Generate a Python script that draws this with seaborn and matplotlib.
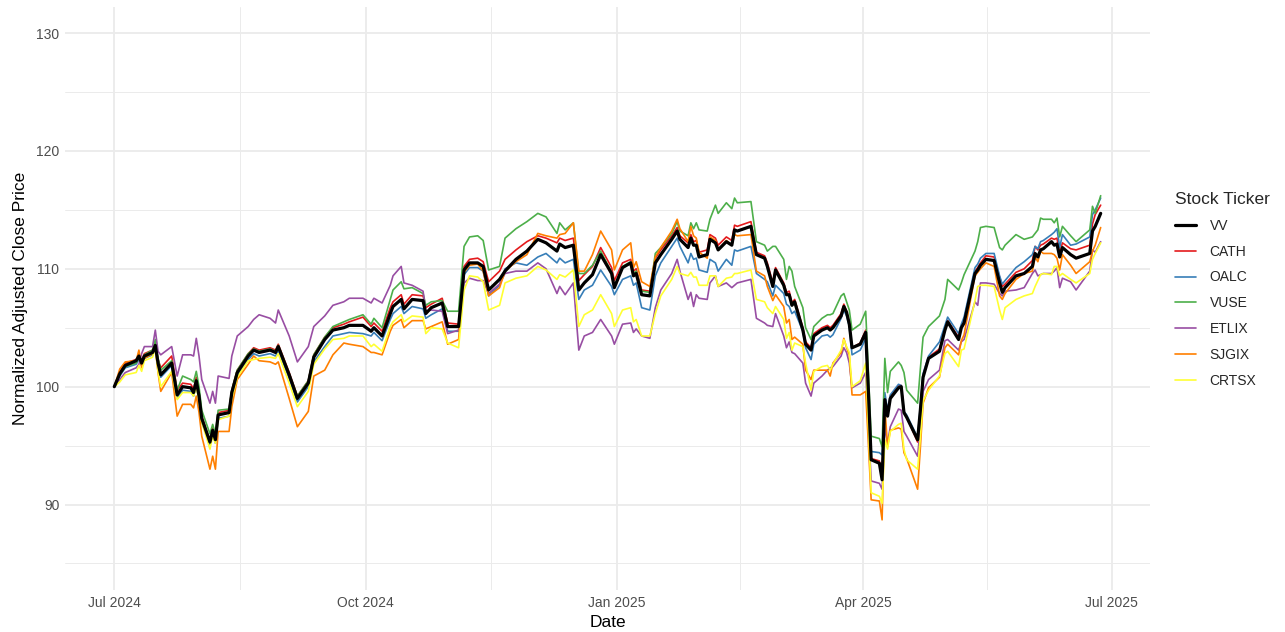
import matplotlib
matplotlib.use("Agg")
import matplotlib.pyplot as plt
import matplotlib.dates as mdates
from matplotlib.lines import Line2D
import numpy as np
import pandas as pd
import seaborn as sns

dates = (
    ["2024-07-%s" % d for d in ["01", "03", "05", "09", "10", "11", "12", "15", "16", "17", "18", "22", "24", "26", "29", "30", "31"]]
    + ["2024-08-%s" % d for d in ["01", "02", "05", "06", "07", "08", "12", "13", "15", "19", "21", "23", "27", "29", "30"]]
    + ["2024-09-%s" % d for d in ["03", "06", "10", "12", "16", "19", "23", "25", "30"]]
    + ["2024-10-%s" % d for d in ["03", "04", "07", "10", "11", "14", "15", "18", "22", "23", "25", "29", "31"]]
    + ["2024-11-%s" % d for d in ["04", "06", "08", "11", "13", "15", "19", "21", "25", "29"]]
    + ["2024-12-%s" % d for d in ["03", "06", "10", "11", "13", "16", "18", "20", "23", "26", "30", "31"]]
    + ["2025-01-%s" % d for d in ["03", "06", "07", "08", "10", "13", "15", "17", "21", "23", "24", "27", "28", "29", "30", "31"]]
    + ["2025-02-%s" % d for d in ["03", "04", "06", "07", "10", "12", "13", "14", "19", "21", "24", "25", "27", "28"]]
    + ["2025-03-%s" % d for d in ["03", "04", "05", "06", "07", "10", "11", "13", "14", "17", "19", "20", "21", "24", "25", "26", "27", "28", "31"]]
    + ["2025-04-%s" % d for d in ["02", "03", "04", "07", "08", "09", "10", "11", "14", "15", "16", "17", "21", "22", "23", "25", "29"]]
    + ["2025-05-%s" % d for d in ["01", "02", "06", "07", "08", "12", "13", "14", "16", "19", "21", "22", "23", "27", "30"]]
    + ["2025-06-%s" % d for d in ["02", "03", "04", "05", "06", "09", "10", "11", "12", "13", "16", "18", "23", "24", "25", "27"]]
)

vv = [100.0, 101.1, 101.8, 102.2, 102.6, 102.0, 102.6, 102.9, 103.5, 102.0, 101.0, 102.0, 99.3, 100.0, 99.9, 99.5, 100.5,
      99.2, 97.3, 95.3, 96.3, 95.5, 97.6, 97.8, 99.5, 101.2, 102.6, 103.1, 102.9, 103.1, 102.9, 103.4,
      101.0, 99.0, 100.3, 102.5, 104.0, 104.8, 105.0, 105.2, 105.2,
      104.7, 105.0, 104.3, 106.2, 106.8, 107.4, 106.6, 107.4, 107.3, 106.2, 106.7, 107.1, 105.1,
      105.1, 109.9, 110.5, 110.5, 110.2, 108.2, 109.1, 109.8, 110.8, 111.5,
      112.5, 112.2, 111.5, 112.1, 111.8, 112.0, 108.2, 108.8, 109.5, 111.2, 109.6, 108.4,
      110.1, 110.5, 109.4, 109.6, 107.8, 107.7, 110.5, 111.2, 112.5, 113.2, 112.5, 111.8, 112.6, 112.0, 112.0, 111.0,
      111.2, 112.5, 112.2, 111.6, 112.3, 112.0, 113.3, 113.2, 113.6, 111.2, 110.9, 110.2, 108.5, 109.9,
      108.6, 107.8, 107.8, 106.9, 107.2, 104.8, 103.6, 103.1, 104.3, 104.8, 105.0, 104.8, 105.0, 106.0, 106.8, 106.3, 105.3, 103.3, 103.6,
      104.6, 99.5, 93.8, 93.5, 92.1, 98.9, 97.5, 99.0, 99.9, 100.0, 97.8, 97.4, 95.5, 98.0, 100.8, 102.4, 103.0,
      104.8, 105.5, 104.0, 105.0, 105.4, 109.6, 109.9, 110.3, 110.8, 110.7, 108.8, 108.0, 108.4, 109.4, 109.6,
      110.2, 111.3, 111.0, 111.6, 111.7, 112.3, 112.0, 112.1, 111.0, 111.8, 111.2, 110.9, 111.3, 113.2, 113.6, 114.7]

cath = [100.0, 101.2, 102.0, 102.3, 102.7, 102.2, 102.8, 103.1, 103.7, 102.3, 101.6, 102.6, 99.7, 100.3, 100.2, 99.8, 100.8,
        99.5, 97.5, 95.4, 96.5, 95.7, 97.8, 98.0, 99.7, 101.4, 102.8, 103.3, 103.1, 103.3, 103.1, 103.6,
        101.2, 99.2, 100.5, 102.7, 104.2, 105.0, 105.3, 105.5, 105.9,
        105.1, 105.4, 104.7, 106.7, 107.2, 107.8, 107.0, 107.8, 107.7, 106.7, 107.0, 107.5, 105.4,
        105.3, 110.2, 110.8, 110.9, 110.6, 108.9, 109.8, 110.8, 111.6, 112.3,
        112.8, 112.6, 112.2, 112.6, 112.4, 112.6, 109.0, 109.5, 110.2, 111.8, 110.1, 109.0,
        110.5, 110.8, 109.8, 110.0, 108.2, 108.1, 110.9, 111.6, 112.8, 113.5, 112.8, 112.2, 112.9, 112.3, 112.4, 111.4,
        111.6, 112.9, 112.6, 112.0, 112.7, 112.4, 113.7, 113.6, 114.0, 111.4, 111.1, 110.5, 108.8, 110.1,
        108.8, 108.0, 108.1, 107.1, 107.4, 105.0, 103.8, 103.3, 104.5, 105.0, 105.2, 105.0, 105.2, 106.2, 107.0, 106.4, 105.4, 103.3, 103.7,
        104.8, 99.7, 93.9, 93.7, 92.2, 99.2, 97.8, 99.2, 100.1, 100.1, 97.9, 97.4, 95.3, 98.0, 100.9, 102.5, 103.2,
        104.9, 105.6, 104.2, 105.1, 105.6, 109.8, 110.1, 110.5, 111.1, 111.0, 109.3, 108.5, 108.7, 109.7, 110.0,
        110.7, 111.9, 111.6, 112.0, 112.1, 112.6, 112.5, 112.6, 111.3, 112.2, 111.7, 111.6, 112.0, 113.8, 114.6, 115.4]

oalc = [100.0, 100.9, 101.6, 101.9, 102.3, 101.8, 102.4, 102.7, 103.3, 101.8, 100.8, 101.8, 99.0, 99.7, 99.6, 99.2, 100.2,
        99.0, 97.0, 95.1, 96.0, 95.2, 97.3, 97.5, 99.2, 100.9, 102.3, 102.8, 102.6, 102.8, 102.6, 103.1,
        100.7, 98.7, 100.0, 102.1, 103.4, 104.3, 104.5, 104.6, 104.5,
        104.3, 104.6, 103.9, 105.7, 106.2, 106.8, 106.2, 106.8, 106.6, 105.8, 106.1, 106.6, 104.7,
        104.7, 109.5, 110.1, 110.1, 109.8, 107.7, 108.6, 110.0, 110.5, 110.3,
        111.0, 111.3, 110.5, 110.9, 110.5, 110.8, 107.4, 108.2, 108.6, 109.9, 108.5, 107.8,
        109.1, 109.4, 108.6, 108.8, 106.7, 106.5, 109.4, 110.5, 111.9, 112.6, 111.9, 110.5, 111.3, 110.8, 110.9, 109.9,
        109.7, 110.8, 110.5, 109.8, 110.8, 110.3, 111.6, 111.5, 111.9, 109.6, 109.1, 108.9, 107.7, 108.6,
        107.9, 107.0, 106.8, 106.2, 106.4, 104.7, 103.3, 102.3, 103.6, 104.3, 104.4, 104.2, 104.4, 105.8, 106.5, 106.0, 105.1, 102.7, 103.1,
        104.1, 99.4, 94.5, 94.4, 94.2, 99.5, 98.0, 99.3, 100.2, 100.1, 97.9, 97.6, 95.7, 98.3, 101.1, 102.6, 103.8,
        105.2, 105.9, 104.5, 105.3, 105.9, 110.1, 110.4, 110.9, 111.3, 111.3, 109.4, 108.7, 109.0, 110.1, 110.6,
        111.2, 111.9, 111.7, 112.3, 112.4, 112.9, 113.1, 113.4, 111.8, 112.9, 112.0, 112.1, 112.7, 114.6, 115.0, 116.0]

vuse = [100.0, 101.0, 101.7, 102.0, 102.5, 102.1, 102.7, 103.1, 104.0, 102.4, 101.4, 102.2, 99.7, 100.9, 100.6, 100.4, 101.3,
        100.0, 98.0, 96.0, 96.8, 96.0, 98.0, 98.1, 99.7, 101.4, 102.8, 103.2, 103.0, 103.2, 103.0, 103.5,
        101.1, 99.2, 100.5, 102.7, 104.2, 105.1, 105.5, 105.7, 106.1,
        105.3, 105.8, 105.0, 107.4, 108.2, 108.9, 108.3, 108.4, 107.9, 106.9, 107.2, 107.3, 106.4,
        106.4, 111.9, 112.7, 112.8, 112.4, 109.9, 110.2, 112.6, 113.4, 114.0,
        114.7, 114.4, 113.0, 113.9, 113.3, 113.9, 109.6, 109.6, 110.3, 111.5, 109.7, 108.5,
        110.2, 110.6, 109.6, 109.8, 108.1, 108.0, 111.3, 111.8, 113.0, 114.0, 113.2, 112.8, 113.9, 113.4, 113.9, 113.3,
        113.2, 114.2, 115.4, 114.7, 115.6, 115.1, 116.0, 115.6, 115.7, 112.3, 112.0, 111.5, 111.9, 111.9,
        110.8, 109.1, 110.2, 109.8, 108.5, 106.7, 105.0, 104.0, 105.1, 105.8, 106.1, 106.1, 106.2, 107.7, 107.9, 107.2, 106.5, 104.8, 105.3,
        106.4, 101.0, 95.8, 95.6, 94.9, 102.4, 99.5, 101.3, 102.1, 101.8, 101.2, 99.7, 98.6, 101.5, 104.2, 105.1, 106.0,
        107.4, 109.1, 108.2, 108.8, 109.5, 111.5, 112.3, 113.5, 113.6, 113.5, 111.8, 111.6, 112.0, 112.9, 112.5,
        112.7, 113.0, 113.3, 114.3, 114.2, 114.2, 113.9, 114.3, 112.7, 113.6, 112.8, 112.3, 113.3, 115.3, 114.7, 116.2]

etlix = [100.0, 100.6, 101.2, 101.6, 101.9, 102.8, 103.4, 103.4, 104.8, 103.0, 102.7, 103.4, 100.9, 102.7, 102.7, 102.6, 104.1,
         102.6, 100.6, 98.6, 99.6, 98.6, 100.9, 100.7, 102.6, 104.3, 105.1, 105.7, 106.1, 105.8, 105.4, 106.5,
         104.3, 102.1, 103.4, 105.1, 106.0, 106.9, 107.2, 107.5, 107.5,
         107.1, 107.5, 107.1, 108.6, 109.4, 110.2, 108.8, 108.6, 108.1, 106.4, 106.5, 106.4, 104.5,
         104.8, 108.8, 109.2, 109.0, 109.0, 107.9, 108.7, 109.6, 109.8, 109.8,
         110.5, 110.0, 107.9, 108.5, 107.8, 108.8, 103.1, 104.3, 104.6, 105.7, 104.3, 103.6,
         105.3, 105.4, 104.6, 104.9, 104.3, 104.1, 106.7, 108.2, 109.6, 110.8, 109.8, 107.4, 108.0, 106.8, 107.8, 107.5,
         107.4, 108.8, 109.4, 108.5, 108.8, 108.4, 108.6, 108.8, 109.1, 105.8, 105.4, 105.2, 105.1, 106.2,
         104.3, 103.3, 103.8, 102.9, 102.8, 102.0, 100.3, 99.2, 100.3, 100.9, 101.4, 101.6, 101.7, 102.6, 103.3, 102.9, 102.0, 99.9, 100.3,
         101.2, 96.8, 92.0, 91.8, 91.3, 96.6, 95.2, 96.6, 98.1, 98.0, 96.2, 95.8, 94.1, 96.6, 99.6, 100.6, 101.4,
         103.9, 104.0, 103.1, 103.8, 104.0, 107.2, 106.9, 108.8, 108.8, 108.7, 107.9, 107.7, 108.1, 108.2, 108.4,
         109.6, 109.9, 109.4, 109.5, 109.6, 109.6, 109.8, 110.1, 108.4, 109.2, 108.9, 108.2, 109.8, 111.6, 111.4, 112.3]

sjgix = [100.0, 101.5, 102.1, 102.2, 103.1, 101.6, 102.4, 102.8, 103.3, 101.2, 99.6, 101.2, 97.5, 98.5, 98.5, 98.2, 99.2,
         97.8, 95.8, 93.0, 94.1, 93.0, 96.2, 96.2, 98.3, 100.6, 101.9, 102.6, 102.2, 102.1, 101.9, 102.1,
         99.0, 96.6, 97.9, 100.9, 101.4, 102.7, 103.7, 103.6, 103.4,
         102.9, 102.9, 102.7, 104.7, 105.2, 105.7, 105.0, 105.6, 105.6, 104.9, 105.1, 105.5, 103.6,
         104.0, 109.7, 110.3, 110.4, 109.8, 107.7, 108.4, 109.8, 110.6, 111.2,
         113.0, 112.8, 112.6, 112.9, 113.0, 113.9, 109.8, 109.8, 111.2, 113.2, 111.6, 109.9,
         111.6, 112.2, 110.1, 110.6, 108.9, 108.5, 111.0, 111.8, 113.2, 114.2, 113.4, 112.3, 113.6, 112.8, 112.6, 111.4,
         110.9, 112.7, 112.4, 111.6, 112.4, 112.0, 112.9, 112.8, 112.9, 109.8, 109.4, 108.5, 107.3, 107.8,
         106.8, 105.4, 105.7, 104.0, 104.2, 103.6, 101.4, 100.6, 101.4, 101.4, 101.4, 100.9, 102.0, 102.9, 104.1, 103.3, 102.7, 99.3, 99.3,
         99.6, 95.0, 90.4, 90.3, 88.7, 98.3, 94.9, 96.3, 96.5, 96.4, 94.4, 93.9, 91.3, 94.8, 98.6, 99.9, 100.8,
         103.3, 103.6, 102.7, 103.9, 104.4, 109.4, 109.7, 110.0, 110.5, 110.2, 107.7, 107.4, 107.9, 109.1, 109.6,
         109.8, 111.0, 110.6, 111.5, 111.3, 111.3, 111.2, 110.9, 109.9, 111.2, 110.3, 109.6, 110.6, 111.5, 112.0, 113.5]

crtsx = [100.0, 100.4, 101.0, 101.2, 101.8, 101.3, 102.2, 102.5, 103.3, 101.3, 100.0, 101.3, 98.9, 99.5, 99.5, 99.2, 100.0,
         98.8, 97.0, 94.7, 95.8, 95.2, 97.2, 97.5, 99.0, 100.8, 102.2, 102.3, 102.4, 102.5, 102.4, 102.8,
         100.3, 98.3, 99.6, 101.9, 103.2, 104.0, 104.1, 104.3, 104.3,
         103.4, 103.6, 103.0, 105.1, 105.5, 106.1, 105.5, 106.0, 105.9, 104.5, 105.0, 104.9, 103.7,
         103.3, 108.2, 109.4, 109.3, 108.9, 106.5, 106.9, 108.8, 109.2, 109.4,
         110.2, 109.9, 109.1, 109.5, 109.3, 109.9, 105.1, 106.1, 106.5, 107.8, 106.2, 105.1,
         106.5, 106.7, 105.5, 105.7, 104.3, 104.3, 106.2, 107.7, 109.1, 110.2, 109.6, 109.4, 109.7, 109.3, 109.3, 108.6,
         108.6, 109.4, 109.4, 108.5, 109.2, 109.3, 109.6, 109.6, 109.9, 107.4, 107.2, 106.7, 106.2, 106.8,
         105.7, 104.1, 104.6, 103.1, 103.7, 103.4, 102.0, 99.7, 101.3, 101.7, 101.8, 101.4, 101.9, 103.1, 104.0, 103.4, 102.9, 100.0, 100.5,
         102.0, 96.5, 91.0, 90.7, 90.1, 95.5, 94.7, 96.2, 96.8, 96.9, 94.7, 93.8, 93.0, 95.7, 98.8, 99.7, 100.9,
         102.8, 103.0, 101.7, 103.1, 103.2, 107.3, 108.5, 108.6, 108.6, 108.5, 106.5, 105.7, 106.7, 107.4, 107.7,
         107.9, 108.5, 109.0, 109.5, 109.6, 109.5, 110.2, 110.2, 109.4, 109.6, 109.1, 108.8, 109.6, 110.8, 111.3, 112.2]

tickers = ["VV", "CATH", "OALC", "VUSE", "ETLIX", "SJGIX", "CRTSX"]
colors = ["black", "#E41A1C", "#377EB8", "#4DAF4A", "#984EA3", "#FF7F00", "#FFFF33"]

series = dict(zip(tickers, [vv, cath, oalc, vuse, etlix, sjgix, crtsx]))
for k, v in series.items():
    assert len(v) == len(dates), (k, len(v), len(dates))

df = pd.DataFrame({"Date": pd.to_datetime(dates), **series})
df = df.melt(id_vars="Date", var_name="Ticker", value_name="Price")

sns.set_theme(style="white")
plt.rcParams["font.family"] = ["Liberation Sans", "DejaVu Sans"]

fig, ax = plt.subplots(figsize=(12.85, 6.32), dpi=100)
fig.subplots_adjust(left=65 / 1285, right=1150 / 1285, top=1 - 6.5 / 632, bottom=1 - 590 / 632)

grid_col = "#EBEBEB"
ax.set_axisbelow(True)

sns.lineplot(data=df[df.Ticker != "VV"], x="Date", y="Price", hue="Ticker",
             hue_order=tickers[1:], palette=colors[1:], linewidth=1.2,
             estimator=None, legend=False, ax=ax)
sns.lineplot(data=df[df.Ticker == "VV"], x="Date", y="Price", color="black",
             linewidth=2.3, estimator=None, legend=False, ax=ax)

start = mdates.date2num(pd.Timestamp("2024-07-01"))
end = mdates.date2num(pd.Timestamp("2025-06-27"))
pad = (end - start) * 0.05
ax.set_xlim(start - pad, end + pad)
ax.set_ylim(82.75, 132.25)

major_x = pd.to_datetime(["2024-07-01", "2024-10-01", "2025-01-01", "2025-04-01", "2025-07-01"])
mx = mdates.date2num(major_x)
ax.set_xticks(mx)
ax.set_xticklabels([d.strftime("%b %Y") for d in major_x])
ax.set_xticks((mx[:-1] + mx[1:]) / 2, minor=True)
ax.set_yticks(np.arange(90, 131, 10))
ax.set_yticks(np.arange(85, 131, 10), minor=True)

ax.grid(which="major", color=grid_col, linewidth=1.3)
ax.grid(which="minor", color=grid_col, linewidth=0.7)
for s in ax.spines.values():
    s.set_visible(False)
ax.tick_params(which="both", length=0, labelsize=10, labelcolor="#4D4D4D", pad=4)

ax.set_xlabel("Date", fontsize=12.5, color="black", labelpad=4)
ax.set_ylabel("Normalized Adjusted Close Price", fontsize=12.5, color="black", labelpad=6)

handles = [Line2D([0], [0], color=c, linewidth=2.3 if t == "VV" else 1.2)
           for t, c in zip(tickers, colors)]
leg = fig.legend(handles, tickers, loc="upper left", bbox_to_anchor=(1168 / 1285, 1 - 185 / 632),
                 frameon=False, title="Stock Ticker", fontsize=10, title_fontsize=12.5,
                 handlelength=1.5, handletextpad=1.0, labelspacing=0.85, borderpad=0)
leg._legend_box.align = "left"

fig.savefig("out.png", dpi=100)
